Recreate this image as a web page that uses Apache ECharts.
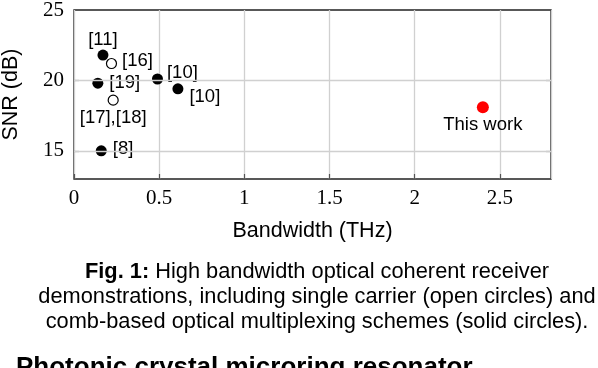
<!DOCTYPE html>
<html>
<head>
<meta charset="utf-8">
<script src="https://cdn.jsdelivr.net/npm/echarts@6/dist/echarts.min.js"></script>
<style>
  html, body { margin: 0; padding: 0; background: #fff; }
  #chart { width: 598px; height: 368px; }
</style>
</head>
<body>
<div id="chart"></div>
<script>
// comb-based (solid circles)
const solidX = [0.17, 0.14, 0.49, 0.61, 0.16];
const solidY = [21.8, 19.8, 20.1, 19.4, 15.0];
const solidRefs = ['[11]', '[19]', '[10]', '[10]', '[8]'];
// single carrier (open circles)
const openX = [0.22, 0.23];
const openY = [21.2, 18.6];
const openRefs = ['[16]', '[17],[18]'];
// this work
const thisX = [2.40];
const thisY = [18.1];
const thisRefs = ['This work'];
// y ticks / grid lines
const yTickValues = [15, 20, 25];
const yGridValues = [15, 20];

const sans = 'Liberation Sans';
const serif = 'Liberation Serif';

// label placement per point
const solidLabelStyle = [
    {position: 'top', distance: 0},
    {position: 'right', distance: 6},
    {position: 'right', distance: 4, offset: [0, -6]},
    {position: 'right', distance: 6, offset: [0, 8]},
    {position: 'right', distance: 6, offset: [0, -2]}
];
const openLabelStyle = [
    {position: 'right', distance: 5, offset: [0, -3]},
    {position: 'bottom', distance: 3}
];

function points(xs, ys, refs, styles) {
    return xs.map((x, i) => ({
        value: [x, ys[i]],
        name: refs[i],
        label: Object.assign({show: true, formatter: '{b}'}, styles ? styles[i] : {})
    }));
}

const labelText = {fontFamily: sans, fontSize: 18.5, color: '#000'};
const tickStyle = {show: true, inside: true, length: 5, lineStyle: {color: '#555', width: 1.2}};

const chart = echarts.init(document.getElementById('chart'));
chart.setOption({
    animation: false,
    title: [
        {
            text: '{b|Fig. 1:} High bandwidth optical coherent receiver\ndemonstrations, including single carrier (open circles) and\ncomb-based optical multiplexing schemes (solid circles).',
            left: 312,
            top: 254,
            textAlign: 'center',
            textStyle: {
                fontFamily: sans,
                fontSize: 21.8,
                fontWeight: 'normal',
                color: '#000',
                lineHeight: 25,
                rich: {b: {fontFamily: sans, fontSize: 21.8, fontWeight: 'bold', color: '#000', lineHeight: 25}}
            }
        },
        {
            text: 'Photonic crystal microring resonator',
            left: 11,
            top: 350,
            textStyle: {fontFamily: sans, fontSize: 26, fontWeight: 'bold', color: '#000'}
        }
    ],
    grid: {
        left: 74, right: 47, top: 10, bottom: 189,
        outerBoundsMode: 'none',
        containLabel: false,
        show: true, borderColor: '#222', borderWidth: 1.4
    },
    xAxis: {
        type: 'value',
        min: 0, max: 2.8, interval: 0.5,
        name: 'Bandwidth (THz)',
        nameLocation: 'middle',
        nameGap: 41,
        nameTextStyle: {fontFamily: sans, fontSize: 21.5, color: '#000'},
        axisLine: {show: false},
        axisTick: tickStyle,
        axisLabel: {fontFamily: serif, fontSize: 21, color: '#000', margin: 9, showMaxLabel: false},
        splitLine: {show: true, lineStyle: {color: '#d0d0d0', width: 1.3}}
    },
    yAxis: [
        {
            type: 'value',
            min: 13, max: 25, interval: 1,
            name: 'SNR (dB)',
            nameLocation: 'middle',
            nameGap: 52,
            nameTextStyle: {fontFamily: sans, fontSize: 21.5, color: '#000'},
            axisLine: {show: false},
            axisTick: Object.assign({customValues: yGridValues}, tickStyle),
            axisLabel: {
                fontFamily: serif, fontSize: 21, color: '#000', margin: 10,
                customValues: yTickValues
            },
            splitLine: {show: false}
        },
        {
            type: 'value',
            position: 'right',
            min: 13, max: 25, interval: 1,
            axisLine: {show: false},
            axisTick: Object.assign({customValues: yGridValues}, tickStyle),
            axisLabel: {show: false},
            splitLine: {show: false}
        }
    ],
    series: [
        {
            // horizontal grid lines, drawn under the marks
            type: 'scatter',
            data: [],
            silent: true,
            z: 1,
            markLine: {
                silent: true,
                symbol: 'none',
                label: {show: false},
                lineStyle: {color: '#d0d0d0', width: 1.3, type: 'solid'},
                data: yGridValues.map(v => ({yAxis: v}))
            }
        },
        {
            type: 'scatter',
            symbol: 'circle',
            symbolSize: 11,
            itemStyle: {color: '#000', opacity: 1},
            label: labelText,
            data: points(solidX, solidY, solidRefs, solidLabelStyle),
            z: 3
        },
        {
            type: 'scatter',
            symbol: 'circle',
            symbolSize: 10,
            itemStyle: {color: '#fff', borderColor: '#000', borderWidth: 1.2, opacity: 1},
            label: labelText,
            data: points(openX, openY, openRefs, openLabelStyle),
            z: 3
        },
        {
            type: 'scatter',
            symbol: 'circle',
            symbolSize: 12,
            itemStyle: {color: '#ff0000', opacity: 1},
            label: labelText,
            data: points(thisX, thisY, thisRefs, [{position: 'bottom', distance: 2}]),
            z: 3
        }
    ]
});
</script>
</body>
</html>
